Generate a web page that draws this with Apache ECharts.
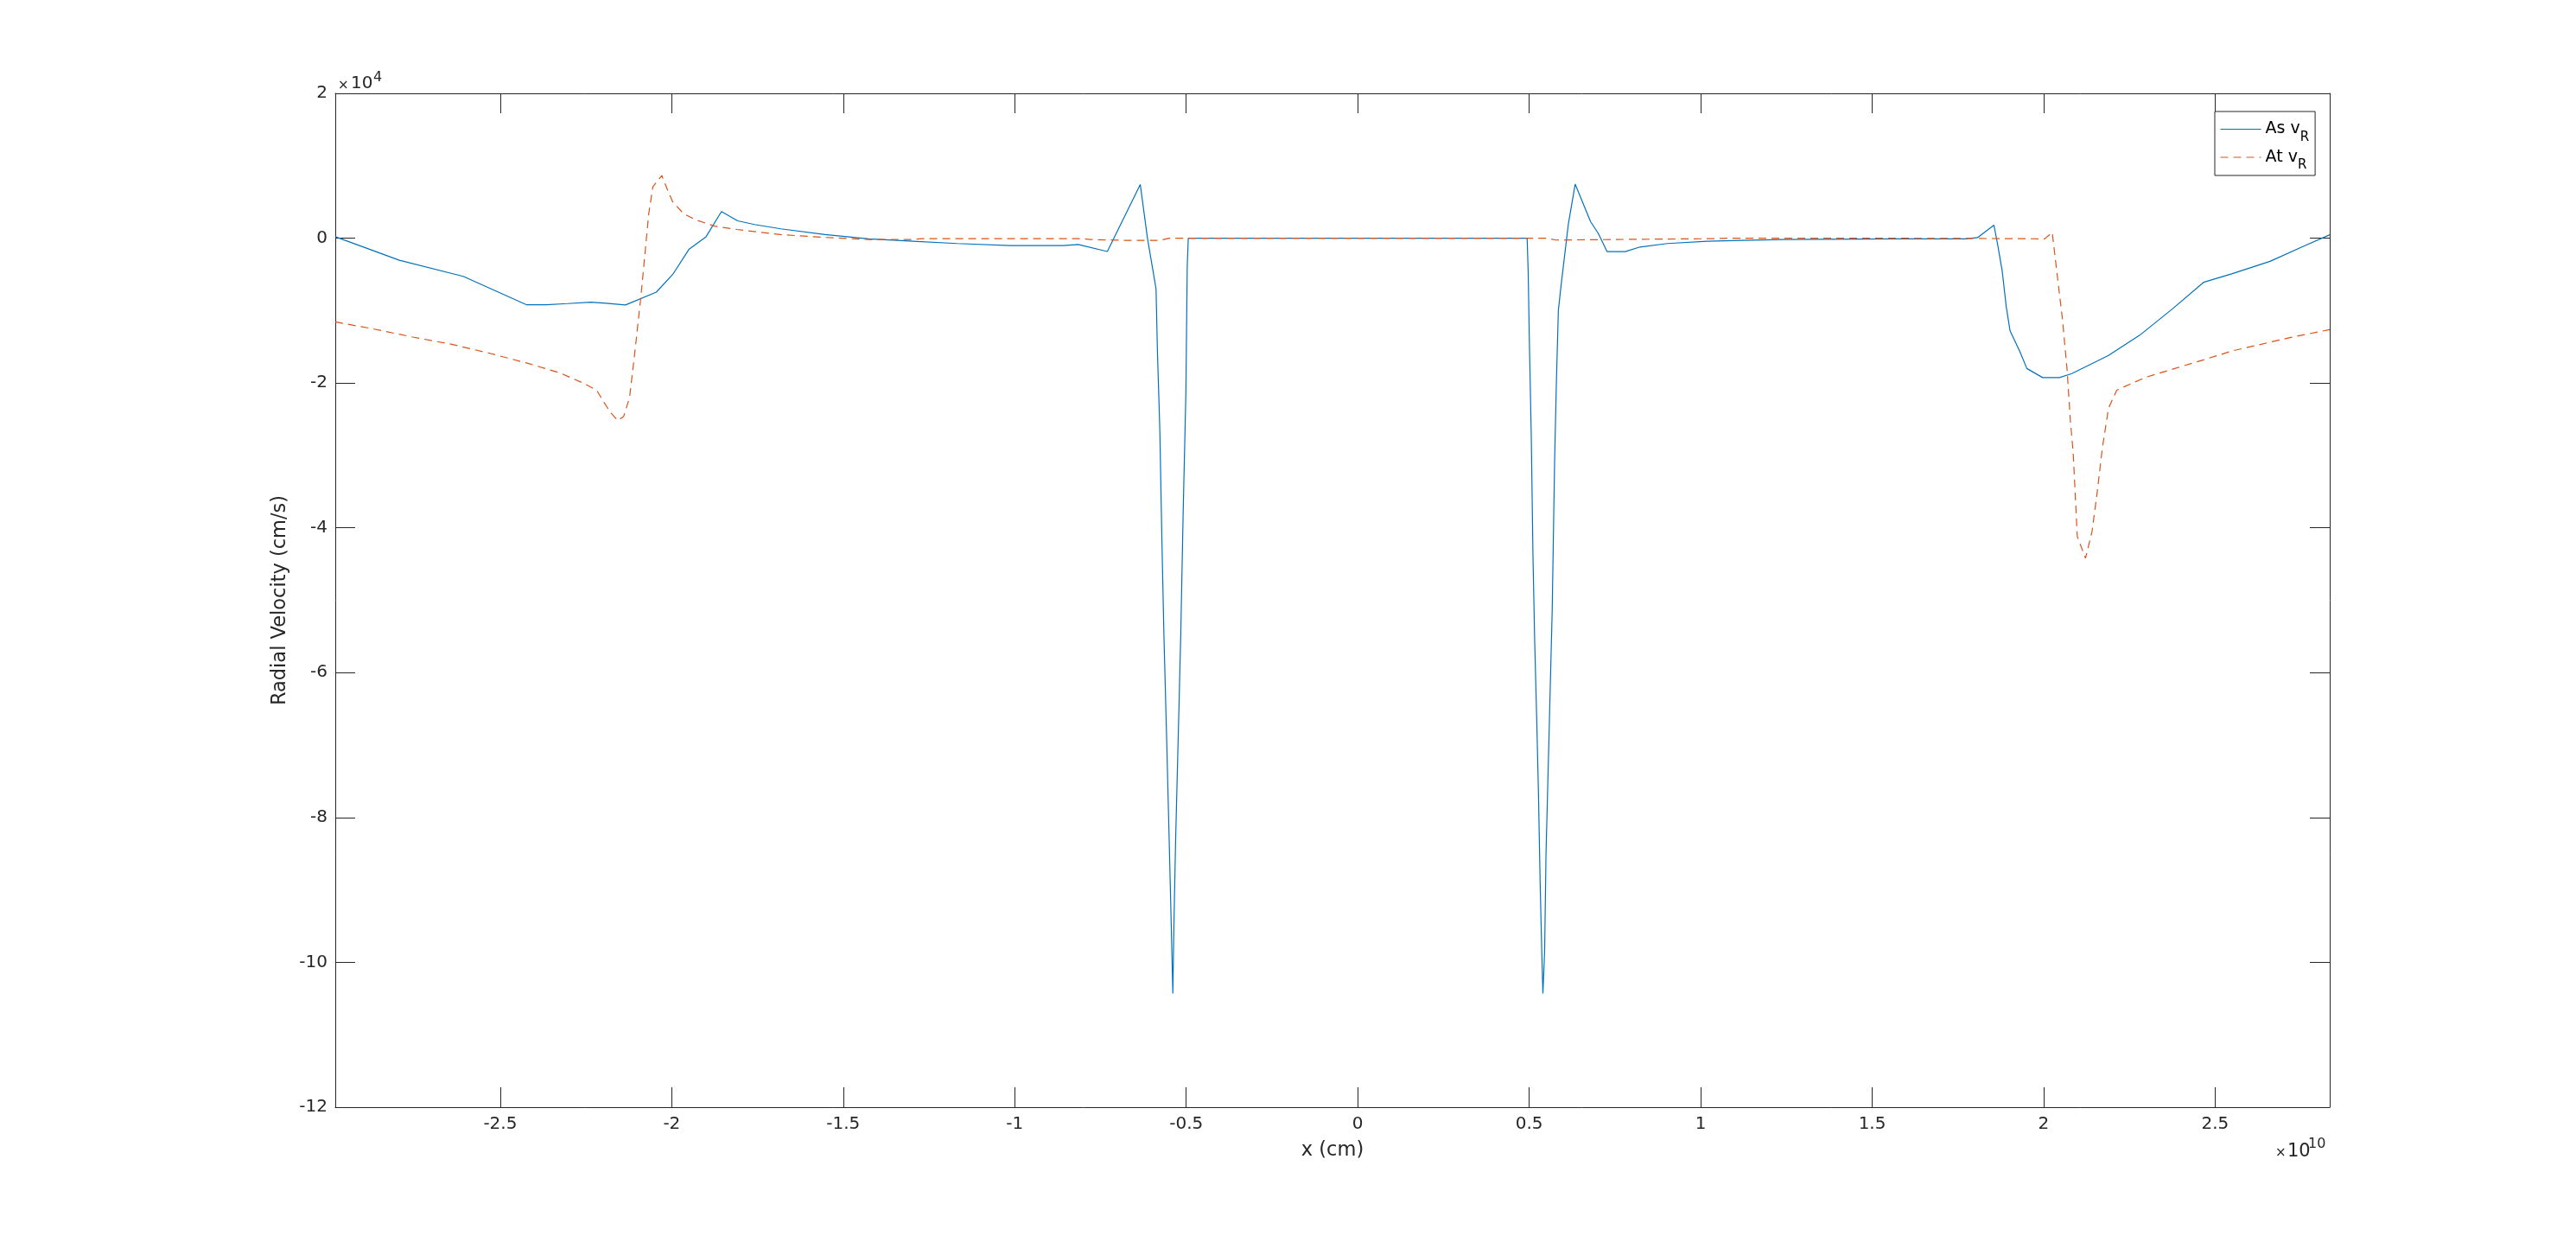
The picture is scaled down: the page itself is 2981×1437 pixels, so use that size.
<!DOCTYPE html>
<html>
<head>
<meta charset="utf-8">
<script src="https://cdn.jsdelivr.net/npm/echarts@6/dist/echarts.min.js"></script>
<style>
html,body{margin:0;padding:0;background:#fff;}
#chart{width:2981px;height:1437px;}
</style>
</head>
<body>
<div id="chart"></div>
<script>
// x in units of 1e10 cm, y in units of 1e4 cm/s
const xLimits = [-2.981, 2.834];
const yLimits = [-12, 2];
const xTickValues = [-2.5, -2, -1.5, -1, -0.5, 0, 0.5, 1, 1.5, 2, 2.5];
const yTickValues = [-12, -10, -8, -6, -4, -2, 0, 2];

const seriesNames = ['As vR', 'At vR'];

const asX = [-2.981,-2.794,-2.608,-2.424,-2.366,-2.304,-2.236,-2.191,-2.135,-2.045,-1.997,-1.950,-1.900,-1.855,-1.808,-1.759,-1.682,-1.553,-1.425,-1.296,-1.168,-1.013,-0.859,-0.815,-0.730,-0.634,-0.613,-0.588,-0.584,-0.577,-0.571,-0.565,-0.558,-0.550,-0.544,-0.539,-0.536,-0.531,-0.523,-0.516,-0.509,-0.501,-0.497,-0.494,
  0.494,0.497,0.501,0.506,0.511,0.516,0.522,0.527,0.532,0.537,0.540,0.545,0.549,0.559,0.567,0.574,0.579,0.585,0.592,0.614,0.634,0.679,0.701,0.727,0.780,0.823,0.903,1.019,1.120,1.243,1.569,1.771,1.807,1.855,1.866,1.879,1.891,1.902,1.930,1.951,1.997,2.046,2.082,2.189,2.280,2.377,2.466,2.550,2.660,2.760,2.834];
const asY = [0.02,-0.305,-0.527,-0.919,-0.919,-0.903,-0.883,-0.899,-0.923,-0.745,-0.50,-0.155,0.02,0.368,0.24,0.189,0.129,0.049,-0.010,-0.042,-0.074,-0.102,-0.102,-0.088,-0.184,0.742,0.0,-0.70,-1.55,-2.64,-4.15,-5.49,-6.74,-8.25,-9.42,-10.43,-9.51,-8.33,-6.83,-5.49,-3.81,-2.14,-0.38,0,
  0,-0.46,-1.55,-2.72,-4.40,-5.57,-6.66,-7.66,-8.92,-9.93,-10.43,-9.84,-8.50,-6.65,-5.15,-3.10,-2.04,-1.0,-0.69,0.19,0.746,0.228,0.069,-0.185,-0.185,-0.122,-0.074,-0.042,-0.030,-0.018,-0.010,-0.010,0.008,0.18,-0.094,-0.45,-0.95,-1.28,-1.56,-1.80,-1.925,-1.925,-1.87,-1.62,-1.34,-0.97,-0.61,-0.49,-0.32,-0.106,0.047];

const atX = [-2.981,-2.868,-2.755,-2.642,-2.529,-2.417,-2.326,-2.259,-2.219,-2.180,-2.157,-2.140,-2.123,-2.107,-2.090,-2.078,-2.067,-2.055,-2.029,-2.011,-1.997,-1.966,-1.932,-1.875,-1.810,-1.682,-1.553,-1.425,-1.296,-1.270,-0.800,-0.780,-0.679,-0.576,-0.550,
  0.550,0.578,0.758,1.048,1.084,1.480,1.910,2.003,2.025,2.038,2.055,2.068,2.078,2.086,2.093,2.098,2.122,2.141,2.156,2.171,2.189,2.213,2.231,2.298,2.382,2.466,2.550,2.634,2.718,2.834];
const atY = [-1.156,-1.255,-1.366,-1.465,-1.592,-1.731,-1.861,-2.0,-2.10,-2.40,-2.52,-2.46,-2.20,-1.55,-0.81,-0.21,0.34,0.71,0.866,0.65,0.50,0.34,0.257,0.166,0.12,0.049,0.01,-0.018,-0.018,-0.006,-0.006,-0.018,-0.03,-0.03,0.0,
  0.0,-0.026,-0.018,-0.006,0.0,0.0,-0.006,-0.01,0.08,-0.45,-1.13,-1.80,-2.53,-2.96,-3.63,-4.12,-4.42,-4.05,-3.51,-2.90,-2.35,-2.10,-2.06,-1.92,-1.80,-1.68,-1.556,-1.465,-1.373,-1.263];

const asData = asX.map((x, i) => [x, asY[i]]);
const atData = atX.map((x, i) => [x, atY[i]]);

const INK = '#262626';
const FONT = 'DejaVu Sans';

const chart = echarts.init(document.getElementById('chart'), null, {renderer: 'canvas'});

const baseAxisLine = {show: true, onZero: false, lineStyle: {color: INK, width: 1}};

chart.setOption({
  backgroundColor: '#ffffff',
  animation: false,
  grid: {left: 388, top: 108, right: 285, bottom: 156, containLabel: false},
  textStyle: {fontFamily: FONT},
  legend: {
    left: 2563, top: 129,
    orient: 'vertical',
    padding: [11, 7, 4, 6],
    itemGap: 6,
    itemWidth: 47,
    itemHeight: 14,
    borderColor: INK, borderWidth: 1, borderRadius: 0,
    backgroundColor: '#ffffff',
    itemStyle: {color: 'rgba(0,0,0,0)', borderColor: 'rgba(0,0,0,0)', borderWidth: 0, opacity: 0},
    lineStyle: {width: 1},
    data: seriesNames,
    formatter: function (name) {
      return '{t|' + name.slice(0, 4) + '}{s|' + name.slice(4) + '}';
    },
    textStyle: {
      color: '#000',
      fontFamily: FONT,
      rich: {
        t: {fontSize: 19, lineHeight: 34, verticalAlign: 'middle', fontFamily: FONT, color: '#000'},
        s: {fontSize: 15, lineHeight: 15, verticalAlign: 'bottom', fontFamily: FONT, color: '#000'}
      }
    }
  },
  xAxis: [{
    type: 'value', min: xLimits[0], max: xLimits[1], position: 'bottom',
    axisLine: baseAxisLine,
    axisTick: {show: true, inside: true, length: 23, customValues: xTickValues, lineStyle: {color: INK, width: 1}},
    axisLabel: {show: true, customValues: xTickValues, margin: 10, color: INK, fontSize: 20, fontFamily: FONT,
      formatter: v => String(v)},
    splitLine: {show: false},
    name: 'x (cm)', nameLocation: 'middle', nameGap: 39,
    nameTextStyle: {color: INK, fontSize: 22.5, fontFamily: FONT}
  }, {
    type: 'value', min: xLimits[0], max: xLimits[1], position: 'top',
    axisLine: baseAxisLine,
    axisTick: {show: true, inside: true, length: 23, customValues: xTickValues, lineStyle: {color: INK, width: 1}},
    axisLabel: {show: false},
    splitLine: {show: false}
  }],
  yAxis: [{
    type: 'value', min: yLimits[0], max: yLimits[1], interval: 2, position: 'left',
    axisLine: baseAxisLine,
    axisTick: {show: true, inside: true, length: 23, lineStyle: {color: INK, width: 1}},
    axisLabel: {show: true, margin: 9, color: INK, fontSize: 20, fontFamily: FONT},
    splitLine: {show: false},
    name: 'Radial Velocity (cm/s)', nameLocation: 'middle', nameGap: 51,
    nameTextStyle: {color: INK, fontSize: 22.5, fontFamily: FONT}
  }, {
    type: 'value', min: yLimits[0], max: yLimits[1], interval: 2, position: 'right',
    axisLine: baseAxisLine,
    axisTick: {show: true, inside: true, length: 23, lineStyle: {color: INK, width: 1}},
    axisLabel: {show: false},
    splitLine: {show: false}
  }],
  series: [{
    name: seriesNames[0], type: 'line', xAxisIndex: 0, yAxisIndex: 0,
    data: asData, symbol: 'none', showSymbol: false, smooth: false,
    lineStyle: {color: '#0072BD', width: 1.2, type: 'solid'},
    itemStyle: {color: '#0072BD'}, z: 2
  }, {
    name: seriesNames[1], type: 'line', xAxisIndex: 0, yAxisIndex: 0,
    data: atData, symbol: 'none', showSymbol: false, smooth: false,
    lineStyle: {color: '#D95319', width: 1.2, type: [9, 6]},
    itemStyle: {color: '#D95319'}, z: 3
  }],
  graphic: [
    {type: 'text', left: 391, top: 92, style: {text: '\u00d7', fontSize: 15, fontFamily: FONT, fill: INK}},
    {type: 'text', left: 406, top: 87, style: {text: '10', fontSize: 20, fontFamily: FONT, fill: INK}},
    {type: 'text', left: 432, top: 82, style: {text: '4', fontSize: 16, fontFamily: FONT, fill: INK}},
    {type: 'text', left: 2633, top: 1327, style: {text: '\u00d7', fontSize: 15, fontFamily: FONT, fill: INK}},
    {type: 'text', left: 2647, top: 1322, style: {text: '10', fontSize: 21, fontFamily: FONT, fill: INK}},
    {type: 'text', left: 2671, top: 1316, style: {text: '10', fontSize: 16, fontFamily: FONT, fill: INK}}
  ]
});
</script>
</body>
</html>
